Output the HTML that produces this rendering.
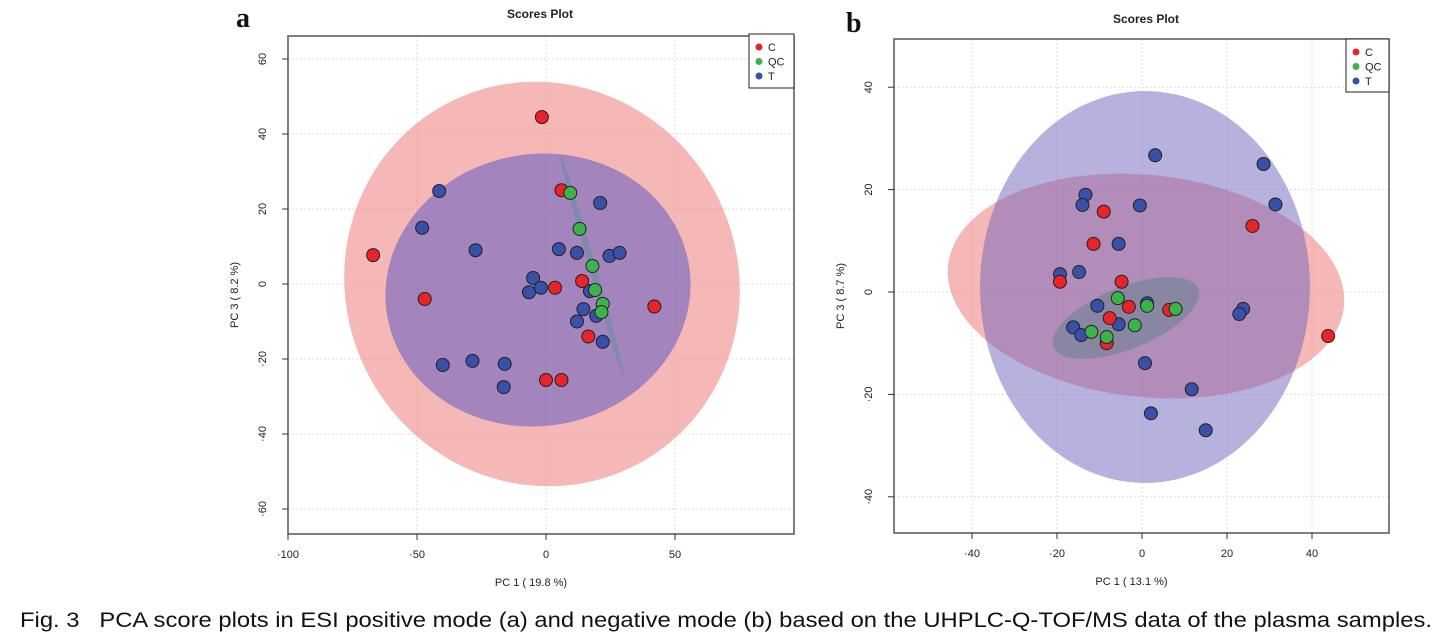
<!DOCTYPE html>
<html><head><meta charset="utf-8">
<style>
body{margin:0;background:#fff;width:1455px;height:637px;overflow:hidden;font-family:"Liberation Sans",sans-serif;}
svg{position:absolute;left:0;top:0}
</style></head>
<body>
<svg id="chart" width="1455" height="637">
<g id="pa"></g>
<g id="pb"></g>
<text x="20" y="627" font-size="21" fill="#111" textLength="1412" lengthAdjust="spacingAndGlyphs">Fig. 3 &#160;&#160;PCA score plots in ESI positive mode (a) and negative mode (b) based on the UHPLC-Q-TOF/MS data of the plasma samples.</text>
</svg>
<script>
// Panel A data
const aXTicks=[-100,-50,0,50];
const aYTicks=[60,40,20,0,-20,-40,-60];
const aCx=[-1.6,-67,-47,6,3.5,14,42,16.4,0,6];
const aCy=[44.5,7.7,-4,25,-1,0.8,-6,-14,-25.6,-25.6];
const aQCx=[9.4,13,18,19,22,21.5];
const aQCy=[24.3,14.7,4.8,-1.6,-5.3,-7.5];
const aTx=[-41.4,-48,-27.3,5,12,21,24.6,28.5,-5,-2,-6.6,17,14.5,19.5,12,22,-40,-28.5,-16,-16.4];
const aTy=[24.8,15,9,9.3,8.3,21.6,7.5,8.3,1.6,-1,-2.2,-1.9,-6.7,-8.5,-10,-15.4,-21.6,-20.5,-21.3,-27.5];
// Panel B data
const bXTicks=[-40,-20,0,20,40];
const bYTicks=[40,20,0,-20,-40];
const bCx=[-9,-11.4,26,-19.3,-4.8,-3.1,-7.6,6.4,-8.3,43.8];
const bCy=[15.7,9.4,12.9,2,2,-2.9,-5.1,-3.5,-10,-8.6];
const bQCx=[-5.7,1.2,7.9,-11.9,-1.7,-8.3];
const bQCy=[-1.2,-2.7,-3.3,-7.8,-6.5,-8.8];
const bTx=[3.1,28.6,31.4,-13.3,-14,-0.5,-5.5,-19.3,-14.8,-10.5,1.2,-16.2,-14.3,-5.5,23.8,22.9,0.7,11.7,2.1,15];
const bTy=[26.7,25,17.1,19,17,16.9,9.4,3.5,3.9,-2.7,-2.2,-6.9,-8.4,-6.3,-3.3,-4.3,-13.9,-19,-23.7,-27];

const NS="http://www.w3.org/2000/svg";
function mk(parent,tag,attrs){const e=document.createElementNS(NS,tag);for(const k in attrs)e.setAttribute(k,attrs[k]);parent.appendChild(e);return e;}

function panel(g,cfg){
  const sx=v=>cfg.x0+v*cfg.kx, sy=v=>cfg.y0-v*cfg.ky;
  const L=cfg.box[0],T=cfg.box[1],R=cfg.box[2],B=cfg.box[3];
  cfg.xt.forEach(t=>{const l=mk(g,'line',{x1:sx(t),x2:sx(t),y1:T,y2:B,stroke:'#ddd','stroke-dasharray':'2,2'});
    
    });
  cfg.yt.forEach(t=>{const l=mk(g,'line',{x1:L,x2:R,y1:sy(t),y2:sy(t),stroke:'#ddd','stroke-dasharray':'2,2'});
    
    });
  cfg.ells.forEach(e=>{const el=mk(g,'ellipse',{cx:e[0],cy:e[1],rx:e[2],ry:e[3],fill:e[5],transform:`rotate(${e[4]} ${e[0]} ${e[1]})`});
    
    });
  const groups=[[cfg.Tx,cfg.Ty,'#3a4fa8','point-t'],[cfg.Cx,cfg.Cy,'#e8242a','point-c'],[cfg.QCx,cfg.QCy,'#3cb34a','point-qc']];
  groups.forEach(gr=>{gr[0].forEach((v,i)=>{const c=mk(g,'circle',{cx:sx(v),cy:sy(gr[1][i]),r:6.5,fill:gr[2],stroke:'#222','stroke-width':1});
    
    });});
  const bx=mk(g,'rect',{x:L,y:T,width:R-L,height:B-T,fill:'none',stroke:'#555','stroke-width':1.5});
  
  
  cfg.xt.forEach(t=>{mk(g,'line',{x1:sx(t),x2:sx(t),y1:B,y2:B+6,stroke:'#333'});
    const tx=mk(g,'text',{x:sx(t),y:B+24,'font-size':11,'text-anchor':'middle',fill:'#222'});tx.textContent=String(t).replace('-','\u00b7');
    
    });
  cfg.yt.forEach(t=>{mk(g,'line',{x1:L-6,x2:L,y1:sy(t),y2:sy(t),stroke:'#333'});
    const tx=mk(g,'text',{x:L-22,y:sy(t),'font-size':11,'text-anchor':'middle',fill:'#222',transform:`rotate(-90 ${L-22} ${sy(t)})`});tx.textContent=String(t).replace('-','\u00b7');
    
    });
  const xl=mk(g,'text',{x:(L+R)/2-10,y:B+52,'font-size':11,'text-anchor':'middle',fill:'#222'});xl.textContent=cfg.xlab;
  
  
  const yx=L-50, yy=(T+B)/2+10;
  const yl=mk(g,'text',{x:yx,y:yy,'font-size':11,'text-anchor':'middle',fill:'#222',transform:`rotate(-90 ${yx} ${yy})`});yl.textContent=cfg.ylab;
  
  
  const ti=mk(g,'text',{x:cfg.titleX,y:cfg.titleY,'font-size':12,'font-weight':'bold','text-anchor':'middle',fill:'#222'});ti.textContent='Scores Plot';
  
  
  const pl=mk(g,'text',{x:cfg.lab[0],y:cfg.lab[1],'font-size':28,'font-weight':'bold','font-family':'Liberation Serif, serif',fill:'#111'});pl.textContent=cfg.lab[2];
  
  
  const lg=cfg.leg;
  const lr=mk(g,'rect',{x:lg[0],y:lg[1],width:lg[2],height:lg[3],fill:'#fff',stroke:'#222','stroke-width':1});
  
  
  [['C','#e8242a'],['QC','#3cb34a'],['T','#3a4fa8']].forEach((it,i)=>{
    const yy2=lg[1]+13+i*14.5;
    const d=mk(g,'circle',{cx:lg[0]+10,cy:yy2,r:3.5,fill:it[1]});
    
    
    const t=mk(g,'text',{x:lg[0]+19,y:yy2+4,'font-size':11,fill:'#222'});t.textContent=it[0];
    
    });
}

panel(document.getElementById('pa'),{x0:546,kx:2.58,y0:284,ky:3.75,box:[288,36,794,534],
  xt:aXTicks,yt:aYTicks,Cx:aCx,Cy:aCy,QCx:aQCx,QCy:aQCy,Tx:aTx,Ty:aTy,
  ells:[[542,284,196,204,-28,'rgba(240,138,138,0.62)','ellipse-c'],
        [538,290,153,136,-10,'rgba(112,100,190,0.62)','ellipse-t'],
        [592,266,3.5,115,-16,'rgba(120,140,170,0.8)','ellipse-qc']],
  xlab:'PC 1 ( 19.8 %)',ylab:'PC 3 ( 8.2 %)',titleX:540,titleY:18,lab:[236,27,'a'],leg:[749,34,45,54]});
panel(document.getElementById('pb'),{x0:1142,kx:4.25,y0:292,ky:5.12,box:[894,39,1389,533],
  xt:bXTicks,yt:bYTicks,Cx:bCx,Cy:bCy,QCx:bQCx,QCy:bQCy,Tx:bTx,Ty:bTy,
  ells:[[1146,286,199,111,6,'rgba(240,138,138,0.62)','ellipse-c'],
        [1145,287,165,196,0,'rgba(112,100,190,0.5)','ellipse-t'],
        [1126,318,78,31,-22,'rgba(100,130,140,0.55)','ellipse-qc']],
  xlab:'PC 1 ( 13.1 %)',ylab:'PC 3 ( 8.7 %)',titleX:1146,titleY:23,lab:[846,32,'b'],leg:[1346,39,43,53]});
</script>
</body></html>
